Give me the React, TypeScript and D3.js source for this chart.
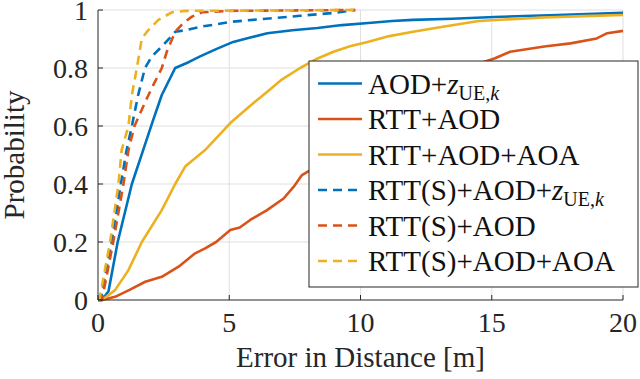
import { useEffect, useRef } from "react";
import * as d3 from "d3";

const aodZ: [number, number][] = [
  [0, 0], [0.15, 0], [0.4, 0.03], [0.75, 0.2], [1.29, 0.4], [1.72, 0.517], [2.1, 0.62],
  [2.43, 0.707], [2.94, 0.8], [3.45, 0.82], [3.89, 0.84], [4.5, 0.865], [5.15, 0.89],
  [5.8, 0.905], [6.45, 0.92], [7.4, 0.93], [8.36, 0.938], [9.3, 0.948], [10.3, 0.955],
  [11.2, 0.962], [12.0, 0.966], [13.5, 0.97], [15.1, 0.976], [17.5, 0.983], [20, 0.99],
];
const rttAod: [number, number][] = [
  [0, 0], [0.15, 0], [0.65, 0.011], [1.2, 0.035], [1.8, 0.063], [2.43, 0.08], [3.07, 0.115],
  [3.7, 0.161], [4.08, 0.178], [4.5, 0.2], [5.04, 0.241], [5.4, 0.25], [5.8, 0.276],
  [6.44, 0.31], [7.07, 0.35], [7.45, 0.39], [7.77, 0.431], [8.09, 0.448], [8.6, 0.49],
  [9.2, 0.54], [10, 0.6], [11, 0.67], [12, 0.73], [13, 0.77], [14, 0.8], [15.1, 0.833],
  [15.7, 0.856], [17.0, 0.874], [18.0, 0.885], [19.0, 0.902], [19.4, 0.92], [20, 0.928],
];
const rttAodAoa: [number, number][] = [
  [0, 0], [0.15, 0], [0.65, 0.034], [1.16, 0.103], [1.67, 0.2], [2.43, 0.31], [2.94, 0.4],
  [3.32, 0.46], [4.08, 0.517], [5.04, 0.61], [5.8, 0.67], [6.45, 0.718], [7.0, 0.76],
  [7.7, 0.8], [8.3, 0.83], [8.97, 0.856], [9.6, 0.875], [10.27, 0.89], [11.1, 0.91],
  [12.0, 0.925], [13.2, 0.943], [14.5, 0.962], [15.5, 0.967], [17.0, 0.974], [18.5, 0.979],
  [20, 0.983],
];
const sAodZ: [number, number][] = [
  [0, 0], [0.1, 0], [0.52, 0.2], [0.87, 0.4], [1.09, 0.517], [1.29, 0.6], [1.53, 0.707],
  [1.79, 0.8], [2.05, 0.84], [2.43, 0.874], [2.7, 0.9], [2.94, 0.925], [3.32, 0.93],
  [3.96, 0.943], [5.15, 0.96], [6.4, 0.97], [7.7, 0.98], [9.0, 0.99], [9.8, 1.0],
];
const sAod: [number, number][] = [
  [0, 0], [0.15, 0], [0.58, 0.2], [0.97, 0.4], [1.16, 0.517], [1.39, 0.6], [1.86, 0.695],
  [2.1, 0.74], [2.43, 0.8], [2.62, 0.856], [2.94, 0.925], [3.25, 0.955], [3.58, 0.977],
  [3.96, 0.992], [5, 0.997], [9.8, 1.0],
];
const sAodAoa: [number, number][] = [
  [0, 0], [0.05, 0], [0.46, 0.2], [0.78, 0.4], [0.9, 0.517], [1.16, 0.6], [1.29, 0.707],
  [1.48, 0.8], [1.67, 0.902], [1.91, 0.93], [2.29, 0.965], [2.81, 0.992], [3.32, 0.997],
  [9.8, 1.0],
];

const xTicks = [0, 5, 10, 15, 20];
const yTicks = [0, 0.2, 0.4, 0.6, 0.8, 1];

const BLUE = "#0072BD";
const RED = "#D95319";
const YELLOW = "#EDB120";

const series = [
  { name: "AOD+", sub: true, data: aodZ, color: BLUE, dashed: false },
  { name: "RTT+AOD", sub: false, data: rttAod, color: RED, dashed: false },
  { name: "RTT+AOD+AOA", sub: false, data: rttAodAoa, color: YELLOW, dashed: false },
  { name: "RTT(S)+AOD+", sub: true, data: sAodZ, color: BLUE, dashed: true },
  { name: "RTT(S)+AOD", sub: false, data: sAod, color: RED, dashed: true },
  { name: "RTT(S)+AOD+AOA", sub: false, data: sAodAoa, color: YELLOW, dashed: true },
];

const W = 640;
const H = 379;
const SERIF = "Liberation Serif";

export default function App() {
  const ref = useRef<SVGSVGElement>(null);

  useEffect(() => {
    if (!ref.current) return;
    const svg = d3.select(ref.current);
    svg.selectAll("*").remove();

    const left = 98, right = 623, top = 10, bottom = 300;
    const axisColor = "#262626";
    const gridColor = "#dfdfdf";

    const x = d3.scaleLinear().domain([0, 20]).range([left, right]);
    const y = d3.scaleLinear().domain([0, 1]).range([bottom, top]);
    const line = d3
      .line<[number, number]>()
      .x((d) => x(d[0]))
      .y((d) => y(d[1]));

    svg.append("rect").attr("width", W).attr("height", H).attr("fill", "#fff");

    // grid
    svg
      .selectAll(".gx")
      .data(xTicks.slice(1))
      .enter()
      .append("line")
      .attr("x1", (d) => x(d))
      .attr("x2", (d) => x(d))
      .attr("y1", top)
      .attr("y2", bottom)
      .attr("stroke", gridColor);
    svg
      .selectAll(".gy")
      .data(yTicks.slice(1))
      .enter()
      .append("line")
      .attr("x1", left)
      .attr("x2", right)
      .attr("y1", (d) => y(d))
      .attr("y2", (d) => y(d))
      .attr("stroke", gridColor);

    // curves
    series.forEach((s) => {
      svg
        .append("path")
        .attr("d", line(s.data))
        .attr("fill", "none")
        .attr("stroke", s.color)
        .attr("stroke-width", 2.6)
        .attr("stroke-linejoin", "round")
        .attr("stroke-dasharray", s.dashed ? "9,6" : null);
    });

    // axes
    svg.append("line").attr("x1", left).attr("x2", left).attr("y1", top).attr("y2", bottom).attr("stroke", axisColor);
    svg.append("line").attr("x1", left).attr("x2", right).attr("y1", bottom).attr("y2", bottom).attr("stroke", axisColor);

    const label = () =>
      svg.append("text").attr("font-family", SERIF).style("font-family", `"${SERIF}"`).attr("fill", axisColor);

    xTicks.forEach((t) => {
      svg.append("line").attr("x1", x(t)).attr("x2", x(t)).attr("y1", bottom).attr("y2", bottom - 5).attr("stroke", axisColor);
      label().attr("x", x(t)).attr("y", 332).attr("text-anchor", "middle").attr("font-size", 28).text(t);
    });
    yTicks.forEach((t) => {
      svg.append("line").attr("x1", left).attr("x2", left + 5).attr("y1", y(t)).attr("y2", y(t)).attr("stroke", axisColor);
      label().attr("x", 88).attr("y", y(t) + 10).attr("text-anchor", "end").attr("font-size", 28).text(t);
    });
    label()
      .attr("x", (left + right) / 2)
      .attr("y", 367)
      .attr("text-anchor", "middle")
      .attr("font-size", 29)
      .text("Error in Distance [m]");
    label()
      .attr("transform", `translate(24,${(top + bottom) / 2}) rotate(-90)`)
      .attr("text-anchor", "middle")
      .attr("font-size", 29)
      .text("Probability");

    // legend
    svg
      .append("rect")
      .attr("x", 309)
      .attr("y", 61)
      .attr("width", 329)
      .attr("height", 226)
      .attr("fill", "#fff")
      .attr("stroke", axisColor);
    series.forEach((s, i) => {
      const ly = 83.5 + i * 35.5;
      svg
        .append("line")
        .attr("x1", 318)
        .attr("x2", 362)
        .attr("y1", ly)
        .attr("y2", ly)
        .attr("stroke", s.color)
        .attr("stroke-width", 2.6)
        .attr("stroke-dasharray", s.dashed ? "9,6" : null);
      const t = label().attr("x", 368).attr("y", ly + 10).attr("font-size", 29).attr("fill", "#111");
      t.append("tspan").text(s.name);
      if (s.sub) {
        t.append("tspan").attr("font-style", "italic").text("z");
        t.append("tspan").attr("font-size", 20).attr("dy", 6).text("UE,");
        t.append("tspan").attr("font-size", 20).attr("font-style", "italic").text("k");
      }
    });
  }, []);

  return <svg ref={ref} width={W} height={H} style={{ position: "absolute", left: 0, top: 0 }} />;
}
